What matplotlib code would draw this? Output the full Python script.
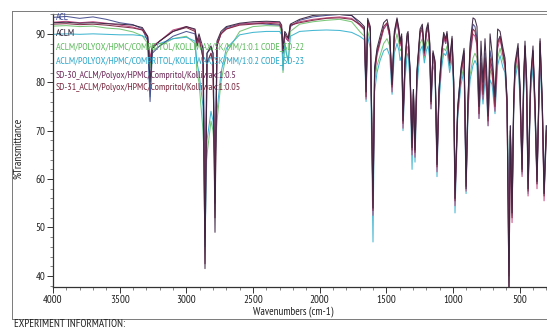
import matplotlib
matplotlib.use("Agg")
import matplotlib.pyplot as plt
from matplotlib.lines import Line2D
from matplotlib.ticker import MultipleLocator
from matplotlib import font_manager as fm

# ---------------- data ----------------
wn_hi = [4000, 3900, 3800, 3700, 3600, 3500, 3400, 3330, 3290, 3272,
         3255, 3200, 3100, 3000, 2935, 2920, 2905, 2875, 2860, 2845,
         2815, 2800, 2785, 2770, 2740, 2700, 2600, 2500, 2400, 2300,
         2285, 2275, 2262, 2250, 2235, 2220, 2150, 2050, 1950, 1850,
         1760]
wn_fp = [1700, 1665, 1652, 1640, 1620, 1600, 1588, 1570, 1547, 1520,
         1495, 1475, 1457, 1440, 1420, 1405, 1397, 1385, 1375, 1360,
         1345, 1337, 1322, 1307, 1297, 1285, 1270, 1247, 1230, 1215,
         1200, 1187, 1175, 1165, 1150, 1135, 1120, 1105, 1085, 1070,
         1055, 1045, 1025, 1007, 995, 985, 965, 940, 917, 902,
         887, 872, 850, 835, 820, 805, 790, 775, 760, 748,
         737, 722, 707, 685, 665, 647, 625, 610, 595, 580,
         570, 557, 545, 535, 512, 497, 482, 470, 460, 448,
         437, 418, 400, 385, 370, 355, 347, 330, 317, 300]

acl_hi = [93.4, 93.6, 93.2, 93.5, 93.0, 92.3, 91.9, 91.0, 88.5, 76.0,
          86.0, 87.5, 89.5, 90.5, 90.0, 87.5, 89.0, 87.0, 60.0, 86.0,
          87.0, 86.0, 63.0, 88.0, 90.0, 91.3, 92.0, 92.2, 92.0, 91.8,
          91.0, 86.0, 90.0, 89.0, 88.5, 91.5, 92.8, 93.5, 93.8, 94.0,
          93.8]
acl_fp = [92.0, 91.2, 79.0, 92.5, 90.5, 58.0, 83.0, 86.5, 88.5, 91.0,
          92.0, 89.5, 80.5, 89.5, 92.5, 90.0, 88.0, 89.0, 73.5, 84.0,
          89.0, 89.5, 82.5, 68.0, 78.5, 68.0, 82.0, 90.0, 91.0, 86.0,
          90.0, 91.3, 88.0, 77.0, 86.0, 84.0, 65.0, 78.5, 86.0, 89.5,
          88.0, 89.5, 84.0, 88.5, 80.5, 58.0, 75.0, 82.5, 86.5, 61.0,
          77.0, 87.0, 92.0, 91.5, 89.0, 75.0, 85.0, 78.5, 86.0, 81.0,
          74.0, 86.5, 84.0, 76.5, 88.5, 89.5, 86.0, 84.0, 77.0, 48.0,
          71.0, 55.0, 76.0, 83.5, 87.0, 78.5, 63.0, 80.5, 87.5, 80.5,
          59.5, 80.5, 86.5, 75.5, 61.0, 78.5, 88.0, 75.5, 59.0, 71.0]

aclm_hi = [92.3, 92.4, 92.2, 92.3, 92.1, 92.0, 91.8, 91.3, 89.5, 80.0,
           87.0, 88.5, 90.5, 91.5, 91.0, 88.5, 90.0, 87.0, 41.5, 86.0,
           87.5, 86.0, 49.0, 88.5, 90.5, 91.5, 92.2, 92.5, 92.6, 92.5,
           91.8, 86.5, 90.5, 90.0, 89.0, 92.0, 93.0, 93.8, 94.0, 94.0,
           93.8]
aclm_fp = [92.5, 91.5, 78.0, 93.2, 91.5, 54.0, 83.0, 87.0, 89.5, 92.3,
           93.0, 90.5, 79.5, 90.5, 93.3, 91.0, 88.5, 90.0, 72.0, 84.5,
           90.0, 90.5, 82.5, 66.5, 78.5, 66.0, 82.5, 91.0, 92.0, 86.5,
           91.0, 92.3, 88.5, 76.0, 86.5, 84.5, 63.0, 78.5, 86.5, 90.3,
           89.0, 90.5, 84.5, 89.5, 80.5, 56.0, 74.5, 83.0, 87.0, 58.0,
           77.0, 88.0, 93.3, 93.0, 91.5, 75.0, 88.5, 80.0, 89.0, 83.0,
           73.0, 90.0, 86.0, 77.0, 91.0, 90.5, 87.0, 85.0, 76.5, 36.0,
           71.0, 53.0, 76.0, 84.0, 88.0, 79.0, 62.0, 81.0, 88.5, 81.0,
           58.0, 81.0, 87.5, 76.0, 59.5, 79.0, 89.0, 76.0, 57.0, 71.0]

sd22_hi = [91.6, 91.7, 91.5, 91.6, 91.2, 91.0, 90.4, 89.6, 88.0, 83.0,
           86.5, 87.5, 89.0, 89.5, 88.0, 82.0, 80.0, 70.0, 61.0, 65.0,
           72.0, 70.0, 64.0, 72.0, 80.0, 86.0, 90.5, 91.5, 91.7, 91.6,
           90.0, 82.0, 88.0, 86.0, 84.0, 90.5, 92.0, 92.5, 92.8, 93.0,
           92.5]
sd22_fp = [90.5, 89.5, 78.5, 90.5, 88.5, 57.0, 80.0, 83.5, 85.5, 88.0,
           89.0, 87.5, 80.0, 87.5, 90.0, 88.0, 86.5, 87.0, 73.0, 82.5,
           87.0, 87.5, 81.5, 68.0, 77.5, 67.5, 80.5, 88.0, 89.0, 85.0,
           88.0, 89.0, 86.5, 77.0, 84.5, 83.0, 64.5, 77.0, 84.0, 87.0,
           86.5, 87.5, 83.0, 86.5, 79.5, 57.5, 74.0, 80.5, 83.5, 60.5,
           75.0, 81.5, 85.0, 86.0, 85.0, 75.0, 81.5, 77.0, 82.0, 79.0,
           73.0, 82.5, 81.5, 75.0, 85.0, 87.0, 84.5, 83.0, 76.0, 52.0,
           70.0, 55.0, 74.5, 81.5, 85.0, 77.0, 63.0, 78.5, 85.0, 78.5,
           59.5, 78.5, 84.5, 74.0, 61.0, 76.5, 86.0, 74.0, 58.5, 69.5]

sd23_hi = [89.9, 90.0, 89.9, 90.0, 89.9, 89.8, 89.8, 89.6, 89.0, 77.0,
           87.5, 88.0, 89.0, 89.3, 88.5, 84.0, 82.0, 75.0, 46.0, 68.0,
           74.0, 72.0, 62.0, 74.0, 82.0, 87.0, 89.8, 90.3, 90.5, 90.5,
           89.8, 82.5, 88.5, 86.0, 84.5, 89.5, 90.5, 90.7, 90.8, 90.7,
           90.3]
sd23_fp = [89.5, 88.8, 76.0, 89.5, 87.0, 47.0, 78.0, 82.0, 84.5, 86.5,
           87.0, 85.5, 77.5, 86.0, 88.0, 86.5, 84.5, 85.5, 70.0, 80.5,
           85.5, 86.0, 80.0, 62.0, 76.0, 63.5, 79.0, 86.5, 87.5, 84.0,
           86.5, 87.5, 85.0, 74.5, 83.5, 82.0, 60.5, 76.0, 83.0, 86.0,
           85.5, 86.5, 82.0, 85.0, 78.0, 53.0, 72.5, 79.5, 82.5, 57.0,
           74.0, 80.5, 83.5, 84.5, 83.5, 72.5, 80.0, 75.5, 80.5, 77.5,
           71.0, 80.5, 79.5, 73.5, 83.5, 85.5, 83.0, 82.0, 75.0, 50.0,
           69.0, 52.5, 73.5, 80.5, 84.0, 76.0, 61.0, 77.5, 84.0, 77.5,
           57.0, 77.5, 83.5, 73.0, 59.0, 75.5, 85.0, 73.0, 57.0, 69.0]

sd30_hi = [92.4, 92.6, 92.3, 92.5, 92.2, 91.8, 91.4, 90.8, 89.5, 85.0,
           87.5, 88.5, 90.8, 91.5, 90.8, 88.0, 89.5, 85.0, 48.0, 84.0,
           86.0, 84.0, 55.0, 87.5, 90.0, 91.0, 92.0, 92.2, 92.4, 92.3,
           91.0, 86.5, 90.0, 89.0, 88.5, 91.8, 92.5, 93.0, 93.3, 93.5,
           93.2]
sd30_fp = [91.8, 90.8, 76.5, 92.5, 90.5, 52.5, 81.5, 85.5, 88.0, 91.0,
           92.0, 89.5, 78.0, 89.5, 92.5, 90.0, 87.5, 89.0, 70.5, 83.5,
           89.0, 89.5, 81.5, 65.0, 77.5, 64.5, 81.5, 90.0, 91.0, 85.5,
           90.0, 91.3, 87.5, 74.5, 85.5, 83.5, 61.5, 77.5, 85.5, 89.3,
           88.0, 89.5, 83.5, 88.5, 79.5, 54.5, 73.5, 81.5, 85.5, 57.5,
           75.5, 85.0, 90.0, 89.5, 87.5, 72.5, 83.5, 76.5, 84.0, 79.0,
           71.0, 84.0, 82.0, 74.0, 87.0, 89.0, 85.5, 83.5, 75.0, 40.0,
           69.0, 51.0, 74.0, 82.5, 86.5, 77.0, 60.5, 79.5, 87.0, 79.0,
           56.5, 79.0, 86.0, 74.0, 58.0, 77.0, 88.0, 74.0, 55.5, 69.0]

sd31_hi = [92.0, 92.1, 91.9, 92.0, 91.8, 91.5, 91.2, 90.8, 89.3, 84.0,
           87.0, 88.5, 90.5, 91.3, 90.5, 87.5, 89.0, 85.0, 42.5, 84.0,
           86.0, 84.0, 52.0, 87.5, 90.0, 91.0, 91.8, 92.0, 92.2, 92.0,
           91.0, 87.0, 90.0, 89.5, 89.0, 91.8, 92.3, 92.8, 93.2, 93.3,
           93.0]
sd31_fp = [92.0, 91.0, 77.0, 92.8, 91.0, 53.5, 82.0, 86.0, 88.5, 91.5,
           92.3, 90.0, 79.0, 90.0, 93.0, 90.5, 88.0, 89.5, 71.5, 84.0,
           89.5, 90.0, 82.0, 66.0, 78.0, 65.5, 82.0, 90.5, 91.5, 86.0,
           90.5, 91.8, 88.0, 75.5, 86.0, 84.0, 62.5, 78.0, 86.0, 89.8,
           88.5, 90.0, 84.0, 89.0, 80.0, 55.5, 74.0, 82.0, 86.0, 58.5,
           76.0, 86.0, 91.0, 90.5, 88.0, 73.5, 84.0, 77.5, 85.0, 80.0,
           72.0, 85.0, 83.0, 75.0, 88.0, 89.5, 86.0, 84.0, 76.0, 36.0,
           70.0, 52.0, 75.0, 83.0, 87.0, 78.0, 61.5, 80.0, 87.5, 80.0,
           57.5, 80.0, 86.5, 75.0, 59.0, 78.0, 88.5, 75.0, 56.5, 70.0]

labels = ["ACL",
          "ACLM",
          "ACLM/POLYOX/HPMC/COMPRITOL/KOLLIWAX/SK/MM/1:0.1 CODE_SD-22",
          "ACLM/POLYOX/HPMC/COMPRITOL/KOLLIWAX/SK/MM/1:0.2 CODE_SD-23",
          "SD-30_ACLM/Polyox/HPMC/Compritol/Kolliwax:1:0.5",
          "SD-31_ACLM/Polyox/HPMC/Compritol/Kolliwax:1:0.05"]
x_ticks = [4000, 3500, 3000, 2500, 2000, 1500, 1000, 500]
y_ticks = [40, 50, 60, 70, 80, 90]

# ---------------- fonts ----------------
def available(name):
    try:
        fm.findfont(fm.FontProperties(family=name), fallback_to_default=False)
        return True
    except Exception:
        return False

narrow = None
for cand in ["Liberation Sans Narrow", "Arial Narrow", "PT Sans Narrow",
             "Archivo Narrow", "Roboto Condensed"]:
    if available(cand):
        narrow = cand
        break
FONT = ([narrow] if narrow else []) + ["Liberation Sans", "DejaVu Sans"]
plt.rcParams["font.family"] = FONT

# ---------------- figure ----------------
W, H = 547, 330
line_colors = ["#48508e", "#3a2440", "#72c472", "#3ab3cf", "#c2447e", "#7d2842"]
text_colors = ["#3e4a92", "#2e2236", "#5cb95c", "#2aa6c8", "#6e2a5a", "#7a2a40"]

fig = plt.figure(figsize=(W / 100, H / 100), dpi=100)
fig.patch.set_facecolor("white")

def fx(px):
    return px / W

def fy(py):
    return 1 - py / H

def fit(text, target_px, lo=5.0, hi=9.0):
    """font size giving the text the width measured in the picture"""
    t = fig.text(0, 0, text, fontsize=10)
    fig.canvas.draw()
    w = t.get_window_extent().width
    t.remove()
    return max(lo, min(hi, 10 * target_px / w))

FS_LEG = fit(labels[2], 250)
FS_TICK = fit("4000", 20)
FS_XL = fit("Wavenumbers (cm-1)", 80)
FS_EXP = min(FS_XL, fit("EXPERIMENT INFORMATION:", 134))

frame_kw = dict(color="#7a7a7a", lw=0.7, transform=fig.transFigure)
fig.add_artist(Line2D([fx(12), fx(12)], [fy(11), fy(319)], **frame_kw))
fig.add_artist(Line2D([fx(12), 1.0], [fy(11), fy(11)], **frame_kw))
fig.add_artist(Line2D([fx(12), 1.0], [fy(319), fy(319)], **frame_kw))

ax_l, ax_r, ax_t, ax_b = 53, 547, 14, 287
ax = fig.add_axes([fx(ax_l), fy(ax_b), fx(ax_r - ax_l), (ax_b - ax_t) / H])
ax.set_facecolor("white")

wn = wn_hi + wn_fp
series = [acl_hi + acl_fp, aclm_hi + aclm_fp, sd22_hi + sd22_fp,
          sd23_hi + sd23_fp, sd30_hi + sd30_fp, sd31_hi + sd31_fp]
order = [2, 3, 0, 4, 5, 1]
for i in order:
    ax.plot(wn, series[i], color=line_colors[i], lw=0.75, alpha=0.95)

ax.set_xlim(4000, 295)
ax.set_ylim(37.7, 94.1)
ax.set_xticks(x_ticks)
ax.set_xticklabels([str(v) for v in x_ticks])
ax.set_yticks(y_ticks)
ax.set_yticklabels([str(v) for v in y_ticks])
ax.yaxis.set_minor_locator(MultipleLocator(2))
ax.xaxis.set_minor_locator(MultipleLocator(100))
ax.tick_params(axis="both", which="major", direction="out", length=4,
               width=0.7, color="#333333", labelsize=FS_TICK, pad=1.5,
               labelcolor="#222222")
ax.tick_params(axis="both", which="minor", direction="out", length=2,
               width=0.5, color="#555555")
for side in ["left", "bottom"]:
    ax.spines[side].set_color("#333333")
    ax.spines[side].set_linewidth(0.9)
ax.spines["top"].set_color("#777777")
ax.spines["top"].set_linewidth(0.6)
ax.spines["right"].set_visible(False)

label_y = [18, 33, 47, 61, 75, 88]
for lab, yy, c in zip(labels, label_y, text_colors):
    fig.text(fx(56), fy(yy), lab, color=c, fontsize=FS_LEG, va="center",
             ha="left")

fig.text(fx(293), fy(312), "Wavenumbers (cm-1)", fontsize=FS_XL,
         ha="center", va="center", color="#222222")
fig.text(fx(18), fy(148), "%Transmittance", fontsize=FS_XL, rotation=90,
         ha="center", va="center", color="#222222")
fig.text(fx(14), fy(327), "EXPERIMENT INFORMATION:", fontsize=FS_EXP,
         ha="left", va="baseline", color="#222222")

fig.savefig("out.png", dpi=100, facecolor="white")
